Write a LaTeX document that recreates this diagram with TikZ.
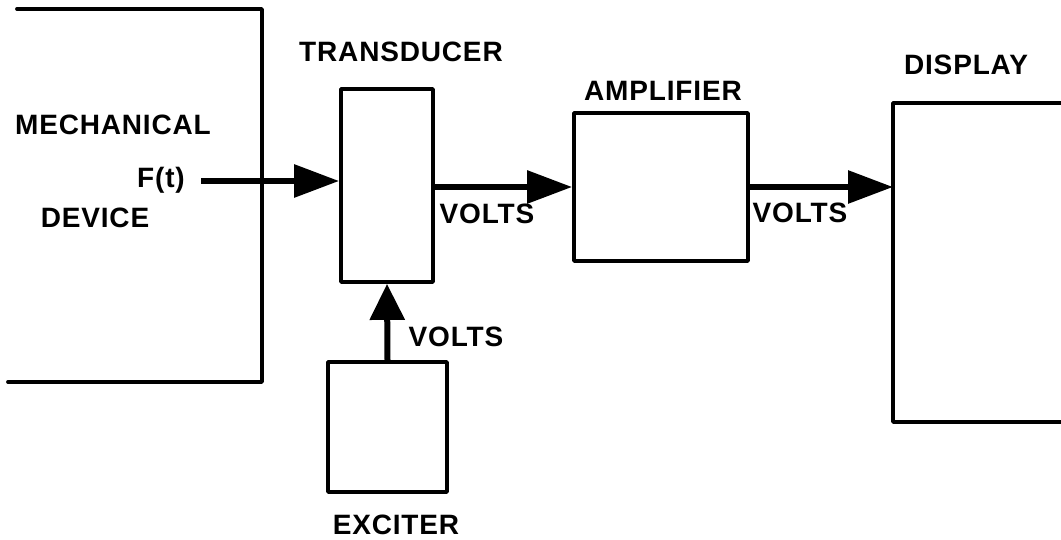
\documentclass[tikz,border=0pt]{standalone}
\usepackage{fontspec}
\setmainfont{Liberation Sans}[LetterSpace=3]
\usetikzlibrary{arrows.meta}
\begin{document}
\begin{tikzpicture}[x=1pt,y=-1pt,
  lbl/.style={inner sep=0pt, font=\fontsize{28}{28}\selectfont\bfseries},
  box/.style={draw, line width=3.8pt, line join=round, inner sep=0pt},
  wire/.style={line width=3.8pt, line join=round, line cap=round},
  flow/.style={line width=6pt, -{Triangle[length=45pt,width=32pt]}},
  vflow/.style={line width=6pt, -{Triangle[length=36pt,width=34pt]}}]
\useasboundingbox (0,0) rectangle (1061,540);
% mechanical device (open box)
\draw[wire] (17,9) -- (262,9) -- (262,382) -- (8,382);
\node[lbl] (mech) at (113,125) {MECHANICAL};
\node[lbl] (ft) at (161,180) {F(t)};
\node[lbl] (dev) at (95,218) {DEVICE};
% transducer
\node[box, minimum width=92pt, minimum height=193pt] (trans) at (387,185.5) {};
\node[lbl] (translbl) at (401,52) {TRANSDUCER};
% amplifier
\node[box, minimum width=174pt, minimum height=148pt] (amp) at (661,187) {};
\node[lbl] (amplbl) at (663,91) {AMPLIFIER};
% exciter
\node[box, minimum width=119pt, minimum height=130pt] (exc) at (387.5,427) {};
\node[lbl] (exclbl) at (396,525) {EXCITER};
% display (open box)
\draw[wire] (1061,103) -- (893,103) -- (893,422) -- (1061,422);
\coordinate (disp) at (893,187);
\node[lbl] (displbl) at (966,65) {DISPLAY};
% connectors
\coordinate (fstart) at (201,181);
\draw[flow] (fstart) -- (trans.west |- fstart);
\draw[flow] (amp.west -| trans.east) -- (amp.west);
\draw[flow] (amp.east) -- (disp);
\draw[vflow] (exc.north) -- (trans.south);
% volts labels
\node[lbl] (v1) at (487,214) {VOLTS};
\node[lbl] (v2) at (800,213) {VOLTS};
\node[lbl] (v3) at (456,337) {VOLTS};
\end{tikzpicture}
\end{document}
